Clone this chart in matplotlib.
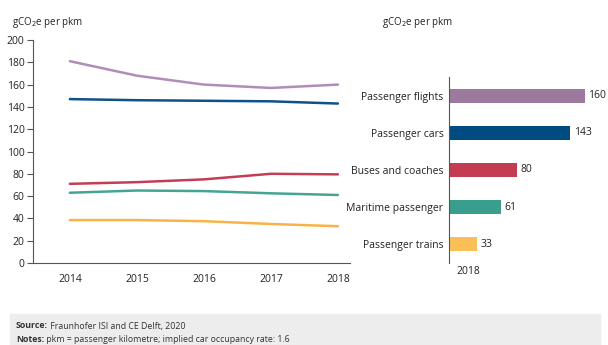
import matplotlib
matplotlib.use("Agg")
import matplotlib.pyplot as plt
from matplotlib.patches import Rectangle

years = [2014, 2015, 2016, 2017, 2018]
flights = [181, 168, 160, 157, 160]
cars = [147, 146, 145.5, 145, 143]
buses = [71, 72.5, 75, 80, 79.5]
maritime = [63, 65, 64.5, 62.5, 61]
trains = [38.5, 38.5, 37.5, 35, 33]

categories = ["Passenger flights", "Passenger cars", "Buses and coaches",
              "Maritime passenger", "Passenger trains"]
values_2018 = [160, 143, 80, 61, 33]
line_colors = ["#B08DB8", "#0F5288", "#C43D55", "#45A595", "#F9B248"]
bar_colors = ["#9C7A9E", "#004B80", "#C33C52", "#3A9E8E", "#FBBF58"]
y_ticks = [0, 20, 40, 60, 80, 100, 120, 140, 160, 180, 200]

plt.rcParams['font.family'] = ['Open Sans', 'DejaVu Sans']
W, H = 608, 345
fig = plt.figure(figsize=(W / 100, H / 100), dpi=100)

def rect(l, t, r, b):
    return [l / W, 1 - b / H, (r - l) / W, (b - t) / H]

# Left line chart
ax = fig.add_axes(rect(33, 40, 350, 263))
series = [flights, cars, buses, maritime, trains]
for s, c in zip(series, line_colors):
    ax.plot(years, s, color=c, lw=1.8, solid_capstyle='round')
ax.set_ylim(0, 200)
ax.set_xlim(2013.45, 2018.18)
ax.set_yticks(y_ticks)
ax.set_xticks(years)
for sp in ['top', 'right']:
    ax.spines[sp].set_visible(False)
for sp in ['left', 'bottom']:
    ax.spines[sp].set_color('#555555')
    ax.spines[sp].set_linewidth(0.8)
ax.tick_params(axis='y', length=4, width=0.8, color='#555555', labelsize=7.5, labelcolor='#222222', pad=2)
ax.tick_params(axis='x', length=0, labelsize=7.5, labelcolor='#222222', pad=8)
fig.text(12 / W, 1 - 22 / H, "gCO$_2$e per pkm", fontsize=7, color='#222222', va='center', ha='left')

# Right bar chart
ax2 = fig.add_axes(rect(449, 77, 605, 263))
ypos = list(range(len(categories)))
ax2.barh(ypos, values_2018, height=0.38, color=bar_colors)
for y, v in zip(ypos, values_2018):
    ax2.text(v + 4, y, str(v), va='center', ha='left', fontsize=7.5, color='#222222')
ax2.set_ylim(4.5, -0.5)
ax2.set_xlim(0, 184)
ax2.set_yticks(ypos)
ax2.set_yticklabels(categories)
ax2.set_xticks([])
for sp in ['top', 'right', 'bottom']:
    ax2.spines[sp].set_visible(False)
ax2.spines['left'].set_color('#555555')
ax2.spines['left'].set_linewidth(0.8)
ax2.tick_params(axis='y', length=0, labelsize=7.5, labelcolor='#222222', pad=4)
fig.text(468 / W, 1 - 272 / H, "2018", fontsize=7.5, color='#222222', ha='center', va='center')
fig.text(382 / W, 1 - 22 / H, "gCO$_2$e per pkm", fontsize=7, color='#222222', va='center', ha='left')

# Footer box
fig.patches.append(Rectangle((10 / W, 0), (600 - 10) / W, (H - 314) / H,
                             transform=fig.transFigure, color='#EDEDED', zorder=0))
renderer = fig.canvas.get_renderer()
for label, rest, ypix in [("Source:", " Fraunhofer ISI and CE Delft, 2020", 326),
                          ("Notes:", " pkm = passenger kilometre; implied car occupancy rate: 1.6", 339)]:
    t = fig.text(16 / W, 1 - ypix / H, label, fontsize=6.3, fontweight='bold',
                 color='#333333', va='center', ha='left')
    bb = t.get_window_extent(renderer)
    fig.text(bb.x1 / W, 1 - ypix / H, rest, fontsize=6.3, color='#333333', va='center', ha='left')

fig.savefig("out.png", dpi=100)
